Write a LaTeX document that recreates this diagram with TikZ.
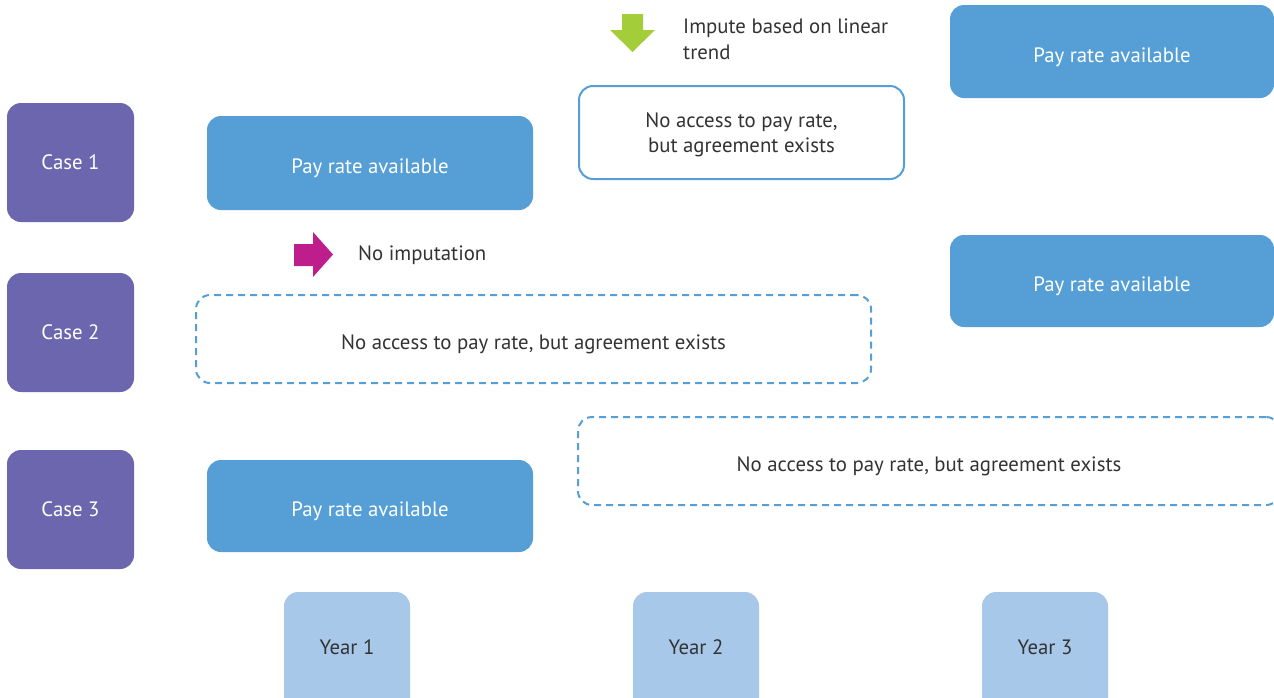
\documentclass[tikz,border=0pt]{standalone}
\usepackage{fontspec}
\setmainfont{PT Sans}
\begin{document}
\begin{tikzpicture}[x=1pt,y=-1pt,
  box/.style={rounded corners=14pt,inner sep=0pt,align=center,text depth=0pt,font=\fontsize{20.8}{25}\selectfont},
  casebox/.style={box,fill=caseviolet,text=white},
  paybox/.style={box,fill=payblue,text=white,text height=21pt},
  nobox/.style={box,draw=payblue,line width=2pt,fill=white,text=txtgray},
  dashbox/.style={box,draw=payblue,line width=2pt,dash pattern=on 7pt off 5pt,text=txtgray,text height=21pt},
  yearbox/.style={box,fill=yearblue,text=txtgray},
  note/.style={anchor=west,inner sep=0pt,align=left,text=txtgray,font=\fontsize{20.8}{26}\selectfont}]
\definecolor{caseviolet}{HTML}{6C66AE}
\definecolor{payblue}{HTML}{559FD6}
\definecolor{yearblue}{HTML}{A8C8EA}
\definecolor{imputegreen}{HTML}{A4CE39}
\definecolor{nopink}{HTML}{BE1E8C}
\definecolor{txtgray}{HTML}{333333}
\useasboundingbox (0,0) rectangle (1274,697);
% cases
\node[casebox,minimum width=127pt,minimum height=119pt] (case1) at (70.5,162.5) {Case 1};
\node[casebox,minimum width=127pt,minimum height=119pt] (case2) at (70.5,332.5) {Case 2};
\node[casebox,minimum width=127pt,minimum height=119pt] (case3) at (70.5,509.5) {Case 3};
% case 1
\node[paybox,minimum width=326pt,minimum height=94pt] (pay11) at (370,163) {Pay rate available};
\node[nobox,minimum width=325pt,minimum height=93pt] (no12) at (741.5,132.5) {No access to pay rate,\\but agreement exists};
\node[paybox,minimum width=324pt,minimum height=93pt] (pay13) at (1112,51.5) {Pay rate available};
% case 2
\node[dashbox,minimum width=675pt,minimum height=88pt] (no21) at (533.5,339) {No access to pay rate, but agreement exists};
\node[paybox,minimum width=324pt,minimum height=92pt] (pay23) at (1112,281) {Pay rate available};
% case 3
\node[paybox,minimum width=326pt,minimum height=92pt] (pay31) at (370,506) {Pay rate available};
\node[dashbox,minimum width=702pt,minimum height=88pt] (no32) at (929,461) {No access to pay rate, but agreement exists};
% years
\node[yearbox,minimum width=126pt,minimum height=128pt] (year1) at (347,656) {};
\node[yearbox,minimum width=126pt,minimum height=128pt] (year2) at (696,656) {};
\node[yearbox,minimum width=126pt,minimum height=128pt] (year3) at (1045,656) {};
\node[text=txtgray,text depth=0pt,font=\fontsize{20.8}{25}\selectfont] at (year1.center |- 0,647) {Year 1};
\node[text=txtgray,text depth=0pt,font=\fontsize{20.8}{25}\selectfont] at (year2.center |- 0,647) {Year 2};
\node[text=txtgray,text depth=0pt,font=\fontsize{20.8}{25}\selectfont] at (year3.center |- 0,647) {Year 3};
% legend arrows
\fill[imputegreen] (622,14) -- (643,14) -- (643,30) -- (655,30) -- (632.5,52) -- (610,30) -- (622,30) -- cycle;
\node[note] (impute) at (683,39) {Impute based on linear\\trend};
\fill[nopink] (294,244) -- (313,244) -- (313,232) -- (333,254.5) -- (313,277) -- (313,266) -- (294,266) -- cycle;
\node[note] (noimp) at (358,255) {No imputation};
\end{tikzpicture}
\end{document}
